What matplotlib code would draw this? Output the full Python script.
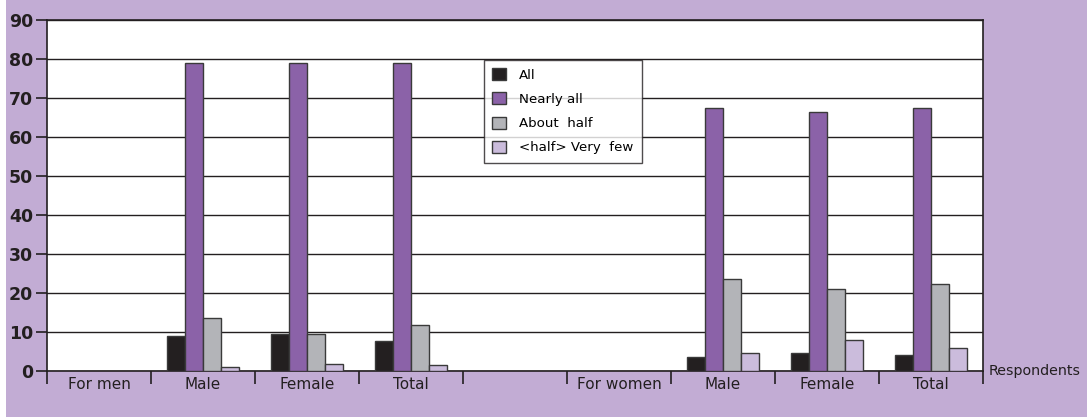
import numpy as np
import matplotlib
matplotlib.use("Agg")
import matplotlib.pyplot as plt
from matplotlib.patches import Rectangle

# Share of respondents per answer, grouped by question and respondent sex
categories = ["For men", "Male", "Female", "Total", "", "For women", "Male", "Female", "Total"]
series_names = ["All", "Nearly all", "About  half", "<half> Very  few"]
all_vals        = [np.nan, 8.9, 9.6, 7.6, np.nan, np.nan, 3.6, 4.7, 4.2]
nearly_all_vals = [np.nan, 78.9, 78.9, 78.9, np.nan, np.nan, 67.5, 66.3, 67.5]
about_half_vals = [np.nan, 13.7, 9.4, 11.9, np.nan, np.nan, 23.7, 21.0, 22.4]
very_few_vals   = [np.nan, 1.0, 1.9, 1.6, np.nan, np.nan, 4.6, 7.9, 6.0]
series_values = [all_vals, nearly_all_vals, about_half_vals, very_few_vals]
y_ticks = [0, 10, 20, 30, 40, 50, 60, 70, 80, 90]

colors = ["#231f20", "#8b62a8", "#b3b4b8", "#cbbcdc"]
bg = "#c2acd4"
ink = "#231f20"
font = "DejaVu Sans"

fig = plt.figure(figsize=(10.87, 4.18), dpi=100, facecolor="white")
fig.patches.append(Rectangle((6 / 1087, 1 / 418), 1, 1, transform=fig.transFigure,
                             facecolor=bg, edgecolor="none", zorder=-10))

ax = fig.add_axes([47 / 1087, 1 - 371 / 418, 936 / 1087, 351 / 418])
ax.set_facecolor("white")

n = len(categories)
x = np.arange(n)
bar_w = 0.172
offsets = (np.arange(4) - 1.5) * bar_w
for vals, off, col, name in zip(series_values, offsets, colors, series_names):
    v = np.array(vals, dtype=float)
    mask = ~np.isnan(v)
    ax.bar(x[mask] + off, v[mask], width=bar_w, color=col, edgecolor="#3a3a3a",
           linewidth=1.0, label=name, zorder=3)

ax.set_xlim(-0.5, n - 0.5)
ax.set_ylim(0, 90)
ax.set_yticks(y_ticks)
ax.set_yticklabels([str(t) for t in y_ticks], fontsize=12.5, fontweight="bold",
                   family=font, color=ink)
ax.yaxis.grid(True, color=ink, linewidth=1.0, zorder=1)
ax.set_axisbelow(True)

# category boundaries as ticks, labels in the middle of each slot
ax.set_xticks(np.arange(n + 1) - 0.5)
ax.set_xticklabels([])
ax.set_xticks(x, minor=True)
ax.set_xticklabels(categories, minor=True, fontsize=11, family=font, color=ink)
ax.tick_params(axis="x", which="major", length=9, width=1.2, color=ink, direction="out")
ax.tick_params(axis="x", which="minor", length=0, pad=4)
ax.tick_params(axis="y", length=8, width=1.2, color=ink, pad=2)

for s in ax.spines.values():
    s.set_color(ink)
    s.set_linewidth(1.2)

ax.text(1.006, 0, "Respondents", transform=ax.transAxes, ha="left", va="center",
        fontsize=10.3, family=font, color=ink)

leg = ax.legend(loc="upper left", bbox_to_anchor=(0.467, 0.886), borderaxespad=0,
                prop={"family": font, "size": 9.6}, frameon=True, fancybox=False,
                handlelength=1.0, handleheight=1.0, handletextpad=1.0,
                labelspacing=0.8, borderpad=0.62)
leg.get_frame().set_edgecolor(ink)
leg.get_frame().set_linewidth(1.0)
leg.set_zorder(5)

fig.savefig("out.png", dpi=100, facecolor=fig.get_facecolor())
